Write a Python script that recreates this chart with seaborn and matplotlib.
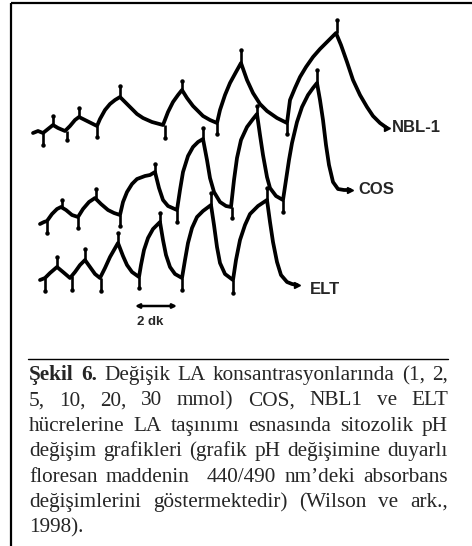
import matplotlib
matplotlib.use("Agg")
import matplotlib.pyplot as plt
import seaborn as sns
import numpy as np

# ---- data (x ~ time, y ~ fluorescence signal, picture units) ----
nbl_x = [33, 38, 43, 48, 53, 58, 65, 70, 75, 79, 85, 91, 97, 100, 105, 110, 115, 120, 125, 130, 137, 143,
         152, 163, 168, 173, 178, 182, 187, 193, 203, 210, 217, 220, 225, 230, 236, 241, 247, 253, 260, 267,
         277, 287, 290, 295, 300, 306, 313, 320, 327, 336, 341, 347, 353, 360, 367, 373, 380, 387]
nbl_y = [133, 131, 133, 129, 125, 128, 131, 126, 120, 117, 120, 123, 126, 119, 110, 104, 100, 97, 102, 107,
         114, 118, 122, 125, 112, 102, 95, 90, 98, 106, 116, 120, 123, 110, 95, 83, 72, 63, 80, 93, 104, 111,
         118, 123, 100, 88, 77, 67, 57, 49, 42, 33, 45, 62, 80, 95, 107, 116, 123, 128]

cos_x = [40, 44, 47, 52, 57, 61, 66, 72, 78, 83, 89, 95, 101, 108, 114, 120, 123, 127, 132, 137, 145, 150,
         155, 159, 163, 168, 177, 180, 183, 188, 193, 198, 203, 207, 210, 214, 220, 226, 231, 234, 237, 241,
         247, 253, 257, 260, 263, 267, 270, 276, 283, 286, 289, 292, 297, 302, 308, 313, 317, 320, 323, 326,
         329, 333, 338, 344, 350]
cos_y = [224, 222, 221, 214, 209, 207, 210, 215, 217, 209, 202, 198, 204, 210, 213, 215, 202, 192, 184, 179,
         176, 175, 172, 188, 200, 206, 210, 190, 172, 156, 147, 142, 139, 160, 178, 192, 202, 206, 207, 180,
         158, 140, 127, 119, 114, 135, 155, 177, 188, 196, 200, 180, 160, 143, 122, 107, 95, 88, 83, 100, 120,
         145, 165, 182, 189, 190, 190]

elt_x = [40, 45, 50, 57, 63, 70, 75, 80, 85, 90, 95, 100, 105, 110, 114, 118, 123, 127, 132, 139, 141, 144,
         148, 153, 160, 163, 166, 170, 175, 182, 185, 188, 192, 197, 203, 211, 214, 217, 220, 225, 233, 236,
         240, 245, 250, 258, 267, 270, 273, 277, 281, 287, 292, 297]
elt_y = [280, 278, 273, 267, 272, 278, 272, 265, 260, 267, 274, 278, 268, 257, 250, 243, 256, 265, 272, 277,
         265, 250, 238, 229, 222, 240, 255, 267, 274, 278, 260, 243, 228, 217, 211, 205, 225, 247, 263, 274,
         280, 260, 240, 225, 214, 206, 200, 222, 242, 262, 275, 282, 284, 285]

# addition markers (x, trace level, marker end)
nbl_mk_x = [43, 53, 67, 79, 97, 120, 165, 182, 217, 241, 287, 337]
nbl_mk_y0 = [133, 125, 131, 117, 126, 97, 125, 90, 123, 63, 123, 33]
nbl_mk_y1 = [145, 116, 140, 108, 137, 86, 138, 81, 134, 50, 134, 20]

cos_mk_x = [47, 62, 78, 96, 120, 155, 177, 203, 232, 257, 283, 317]
cos_mk_y0 = [221, 207, 217, 198, 215, 172, 210, 139, 207, 114, 200, 83]
cos_mk_y1 = [233, 200, 228, 189, 226, 164, 222, 128, 218, 106, 212, 70]

elt_mk_x = [45, 57, 72, 85, 101, 118, 139, 160, 182, 211, 233, 267]
elt_mk_y0 = [278, 267, 276, 260, 278, 243, 277, 222, 278, 205, 280, 200]
elt_mk_y1 = [291, 257, 290, 249, 291, 233, 288, 213, 290, 193, 293, 188]

trace_labels = ["NBL-1", "COS", "ELT"]
scale_label = "2 dk"

caption_lines = [
    "Şekil 6. Değişik LA konsantrasyonlarında (1, 2,",
    "5, 10, 20, 30 mmol) COS, NBL1 ve ELT",
    "hücrelerine LA taşınımı esnasında sitozolik pH",
    "değişim grafikleri (grafik pH değişimine duyarlı",
    "floresan maddenin  440/490 nm’deki absorbans",
    "değişimlerini göstermektedir) (Wilson ve ark.,",
    "1998).",
]

# ---- drawing ----
sns.set_style("white")
plt.rcParams["font.family"] = ["Liberation Sans", "DejaVu Sans"]

W, H = 472, 546
fig = plt.figure(figsize=(W / 100, H / 100), dpi=100)
ax = fig.add_axes([0, 0, 1, 1])
ax.set_xlim(0, W)
ax.set_ylim(H, 0)
ax.axis("off")

for xs, ys in [(nbl_x, nbl_y), (cos_x, cos_y), (elt_x, elt_y)]:
    sns.lineplot(x=xs, y=ys, sort=False, estimator=None, color="black", lw=2.7, ax=ax)
    ax.lines[-1].set_solid_joinstyle("round")

for mx, y0, y1 in [(nbl_mk_x, nbl_mk_y0, nbl_mk_y1), (cos_mk_x, cos_mk_y0, cos_mk_y1),
                   (elt_mk_x, elt_mk_y0, elt_mk_y1)]:
    ax.vlines(mx, y0, y1, color="black", lw=1.9)
    ax.plot(mx, y1, "o", color="black", ms=2.2)

# end blobs
for xs, ys in [(nbl_x, nbl_y), (cos_x, cos_y), (elt_x, elt_y)]:
    ax.plot(xs[-1], ys[-1], ">", color="black", ms=4)

# labels
ax.text(392, 128, trace_labels[0], fontsize=12, fontweight="bold", va="center", ha="left")
ax.text(358, 190, trace_labels[1], fontsize=12, fontweight="bold", va="center", ha="left")
ax.text(310, 289, trace_labels[2], fontsize=12, fontweight="bold", va="center", ha="left")

# scale bar
ax.annotate("", xy=(177, 306), xytext=(135, 306),
            arrowprops=dict(arrowstyle="<|-|>", color="black", lw=1.8,
                            mutation_scale=6, shrinkA=0, shrinkB=0))
ax.text(137, 322, scale_label, fontsize=9.5, fontweight="bold", va="center", ha="left")

# frame lines
ax.plot([11, 11], [3, H], color="black", lw=1.6, solid_capstyle="butt")
ax.plot([11, W], [3, 3], color="black", lw=1.6, solid_capstyle="butt")
ax.plot([28, 448], [359, 359], color="black", lw=1.0)

# caption, justified
fig.canvas.draw()
renderer = fig.canvas.get_renderer()
left, right = 29, 448
cap_size = 15.3
for i, line in enumerate(caption_lines):
    base = 380 + 25.4 * i
    tokens = line.split(" ")
    words, gaps = [], []
    extra = 0
    for tok in tokens:
        if tok == "":
            extra += 1
            continue
        if words:
            gaps.append(1 + extra)
        extra = 0
        words.append(tok)
    objs = []
    widths = []
    for j, w in enumerate(words):
        bold = (i == 0 and j < 2)
        t = ax.text(0, base, w, fontsize=cap_size, family=["Liberation Serif", "DejaVu Serif"],
                    fontweight="bold" if bold else "normal", va="baseline", ha="left")
        bb = t.get_window_extent(renderer)
        widths.append(bb.width)
        objs.append(t)
    total = sum(widths)
    if i < len(caption_lines) - 1 and len(words) > 1:
        unit = ((right - left) - total) / sum(gaps)
    else:
        sp = ax.text(0, 0, "a a", fontsize=cap_size, family=["Liberation Serif"])
        sp2 = ax.text(0, 0, "aa", fontsize=cap_size, family=["Liberation Serif"])
        unit = sp.get_window_extent(renderer).width - sp2.get_window_extent(renderer).width
        sp.remove(); sp2.remove()
    x = left
    for j, t in enumerate(objs):
        t.set_x(x)
        x += widths[j]
        if j < len(gaps):
            x += unit * gaps[j]

fig.savefig("out.png", dpi=100)
